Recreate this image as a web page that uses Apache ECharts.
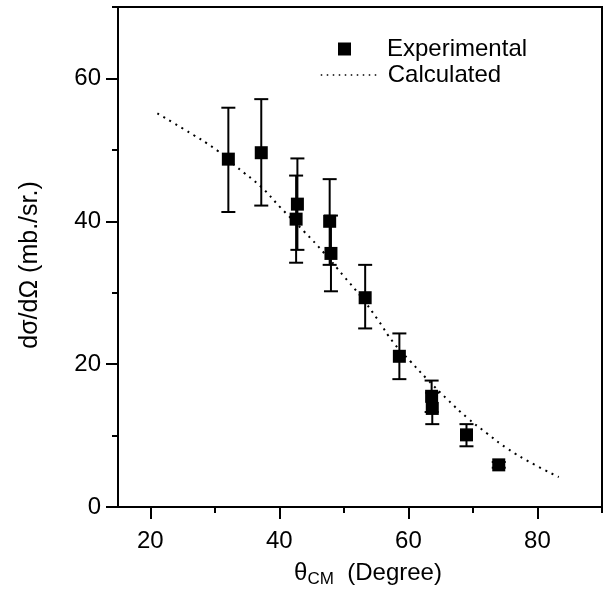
<!DOCTYPE html>
<html lang="en">
<head>
    <meta charset="utf-8">
    <title>Cross section</title>
    <script src="https://cdn.jsdelivr.net/npm/echarts@6/dist/echarts.min.js"></script>
    <style>
        html, body { margin: 0; padding: 0; background: #fff; }
    </style>
</head>
<body>
<div id="main" style="width: 607px;height:593px;"></div>
<script type="text/javascript">
    // measured points (angle, cross section) and their error bars
    var expX = [32.1, 37.2, 42.8, 42.6, 47.8, 48.0, 53.3, 58.6, 63.6, 63.7, 69.0, 74.0];
    var expY = [48.7, 49.6, 42.4, 40.3, 40.0, 35.5, 29.3, 21.1, 15.5, 13.8, 10.1, 5.9];
    var errLow = [41.3, 42.2, 36.0, 34.2, 33.9, 30.2, 25.0, 17.9, 13.3, 11.6, 8.5, 5.5];
    var errHigh = [55.9, 57.1, 48.8, 46.4, 45.9, 40.8, 33.9, 24.3, 17.7, 16.0, 11.6, 6.3];

    // calculated curve
    var calcX = [21.1, 25.2, 30.4, 33.4, 37.2, 40.2, 43.8, 46.9, 50.0, 52.6, 55.2, 57.7, 60.3, 62.9, 66.0, 69.1, 72.2, 75.3, 79.4, 83.3];
    var calcY = [55.1, 52.9, 49.9, 47.6, 44.8, 41.9, 38.6, 35.6, 32.3, 29.5, 26.3, 23.0, 20.4, 17.9, 15.1, 12.5, 10.3, 8.2, 6.0, 4.2];

    // axis ticks
    var xMajor = [20, 40, 60, 80];
    var xMinor = [30, 50, 70, 90];
    var yMajor = [0, 20, 40, 60];
    var yMinor = [10, 30, 50, 70];

    var font = 'Liberation Sans, Arial, sans-serif';
    var fs = 24;
    var chart = echarts.init(document.getElementById('main'));

    var expData = [], errData = [], calcData = [];
    for (var i = 0; i < expX.length; i++) {
        expData.push([expX[i], expY[i]]);
        errData.push([expX[i], errLow[i], errHigh[i]]);
    }
    for (var j = 0; j < calcX.length; j++) {
        calcData.push([calcX[j], calcY[j]]);
    }

    function renderErr(params, api) {
        var lo = api.coord([api.value(0), api.value(1)]);
        var hi = api.coord([api.value(0), api.value(2)]);
        var w = 7;
        var st = { stroke: '#000', lineWidth: 2 };
        return {
            type: 'group',
            children: [
                { type: 'line', shape: { x1: lo[0], y1: lo[1], x2: hi[0], y2: hi[1] }, style: st },
                { type: 'line', shape: { x1: lo[0] - w, y1: lo[1], x2: lo[0] + w, y2: lo[1] }, style: st },
                { type: 'line', shape: { x1: hi[0] - w, y1: hi[1], x2: hi[0] + w, y2: hi[1] }, style: st }
            ]
        };
    }

    function xAxisDef(ticks, labels, len) {
        return {
            type: 'value', min: 15, max: 90, position: 'bottom',
            axisLine: { show: true, lineStyle: { color: '#000', width: 2 } },
            axisTick: { show: true, length: len, customValues: ticks, lineStyle: { color: '#000', width: 2 } },
            axisLabel: { show: labels, customValues: xMajor, margin: 22, color: '#000', fontSize: fs, fontFamily: font },
            splitLine: { show: false }
        };
    }
    function yAxisDef(ticks, labels, len) {
        return {
            type: 'value', min: 0, max: 70, position: 'left',
            axisLine: { show: true, lineStyle: { color: '#000', width: 2 } },
            axisTick: { show: true, length: len, customValues: ticks, lineStyle: { color: '#000', width: 2 } },
            axisLabel: { show: labels, customValues: yMajor, margin: 17, color: '#000', fontSize: fs, fontFamily: font },
            splitLine: { show: false }
        };
    }

    var xA = xAxisDef(xMajor, true, 12);
    xA.name = '{t|θ}{s|CM}  (Degree)';
    xA.nameLocation = 'middle';
    xA.nameGap = 52;
    xA.nameTextStyle = {
        color: '#000', fontSize: fs, fontFamily: font, padding: [0, 0, 0, 16],
        rich: {
            t: { fontSize: fs, fontFamily: font, color: '#000' },
            s: { fontSize: 17, fontFamily: font, color: '#000', verticalAlign: 'bottom', padding: [12, 0, 0, 0] }
        }
    };
    var xB = xAxisDef(xMinor, false, 6);

    var yA = yAxisDef(yMajor, true, 12);
    yA.name = 'dσ/dΩ (mb./sr.)';
    yA.nameLocation = 'middle';
    yA.nameGap = 75;
    yA.nameTextStyle = { color: '#000', fontSize: 25, fontFamily: font, padding: [0, 16, 0, 0] };
    var yB = yAxisDef(yMinor, false, 6);

    var option = {
        animation: false,
        backgroundColor: '#fff',
        textStyle: { fontFamily: font },
        grid: {
            left: 118, right: 5, top: 7, bottom: 85,
            show: true, borderColor: '#000', borderWidth: 2, backgroundColor: 'transparent'
        },
        legend: [
            {
                data: [{ name: 'Experimental', icon: 'rect', itemStyle: { color: '#000' } }],
                left: 338, top: 37, padding: 0, itemWidth: 13, itemHeight: 13,
                textStyle: { color: '#000', fontSize: fs, fontFamily: font, padding: [0, 0, 0, 31] }
            },
            {
                data: [{ name: 'Calculated', itemStyle: { opacity: 0 } }],
                left: 320, top: 63, padding: 0, itemWidth: 56, itemHeight: 14,
                lineStyle: { color: '#000', width: 1.5, type: [1.5, 4.5] },
                textStyle: { color: '#000', fontSize: fs, fontFamily: font, padding: [0, 0, 0, 6] }
            }
        ],
        xAxis: [xA, xB],
        yAxis: [yA, yB],
        series: [
            {
                name: 'Calculated', type: 'line', data: calcData,
                showSymbol: false, symbol: 'none', smooth: true,
                lineStyle: { color: '#000', width: 2, type: [2, 5] },
                itemStyle: { color: '#000' },
                z: 1
            },
            {
                name: 'Experimental', type: 'custom', data: errData,
                renderItem: renderErr, z: 2, silent: true,
                itemStyle: { color: '#000' }
            },
            {
                name: 'Experimental', type: 'scatter', data: expData,
                symbol: 'rect', symbolSize: 13,
                itemStyle: { color: '#000', opacity: 1 },
                z: 3
            }
        ]
    };
    chart.setOption(option);
</script>
</body>
</html>
